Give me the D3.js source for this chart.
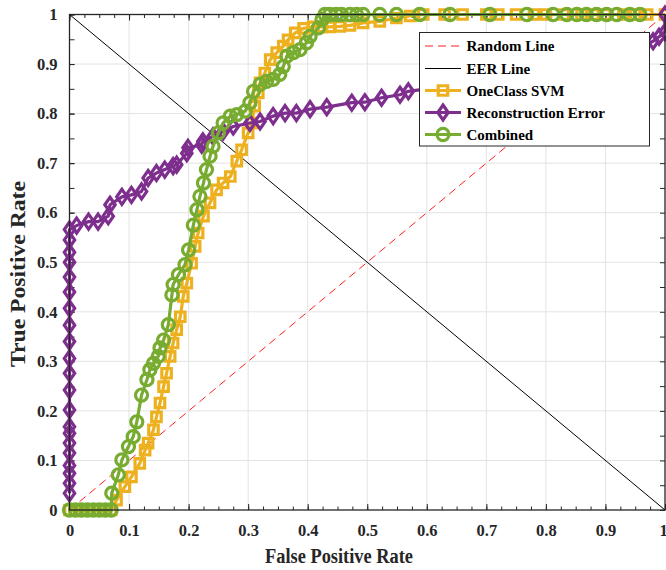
<!DOCTYPE html>
<html><head><meta charset="utf-8">
<script src="https://cdn.jsdelivr.net/npm/d3@7/dist/d3.min.js"></script>
<style>body{margin:0;background:#fff}svg{display:block}</style>
</head><body>
<script>
const xTicks = [0,0.1,0.2,0.3,0.4,0.5,0.6,0.7,0.8,0.9,1];
const yTicks = [0,0.1,0.2,0.3,0.4,0.5,0.6,0.7,0.8,0.9,1];
const tickLabels = ["0","0.1","0.2","0.3","0.4","0.5","0.6","0.7","0.8","0.9","1"];
const seriesNames = ["Random Line","EER Line","OneClass SVM","Reconstruction Error","Combined"];

const randomLine = [[0,0],[1,1]];
const eerLine = [[0,1],[1,0]];

const svmFPR = [0,0.01,0.02,0.03,0.04,0.05,0.06,0.07,0.079,0.093,0.104,0.118,0.127,0.132,0.141,0.146,0.152,0.158,0.163,0.169,0.174,0.18,0.186,0.191,0.197,0.205,0.211,0.216,0.225,0.236,0.247,0.258,0.27,0.281,0.289,0.3,0.306,0.311,0.317,0.32,0.328,0.337,0.348,0.359,0.367,0.379,0.393,0.409,0.424,0.437,0.454,0.471,0.493,0.521,0.549,0.572,0.594,0.63,0.66,0.7,0.72,0.75,0.78,0.8,0.83,0.86,0.88,0.9,0.93,0.95,0.97,1];
const svmTPR = [0,0,0,0,0,0,0,0,0.02,0.047,0.067,0.094,0.121,0.135,0.162,0.188,0.216,0.249,0.276,0.31,0.337,0.364,0.39,0.431,0.458,0.498,0.532,0.559,0.593,0.62,0.646,0.66,0.673,0.704,0.727,0.761,0.781,0.815,0.842,0.862,0.882,0.909,0.923,0.936,0.949,0.963,0.972,0.975,0.975,0.975,0.976,0.978,0.983,0.986,0.993,0.997,1,1,1,1,1,1,1,1,1,1,1,1,1,1,1,1,1];

const reconFPR = [0,0,0,0,0,0,0,0,0,0,0,0,0,0,0,0,0,0,0,0,0,0.012,0.032,0.048,0.065,0.068,0.088,0.104,0.121,0.132,0.146,0.16,0.174,0.18,0.197,0.199,0.222,0.224,0.241,0.258,0.275,0.303,0.32,0.342,0.362,0.381,0.404,0.432,0.474,0.496,0.524,0.555,0.569,0.6,0.65,0.7,0.75,0.8,0.85,0.9,0.95,0.98,0.99,1,1];
const reconTPR = [0.034,0.054,0.074,0.09,0.115,0.135,0.155,0.168,0.202,0.242,0.276,0.306,0.34,0.373,0.407,0.44,0.47,0.5,0.52,0.545,0.566,0.574,0.582,0.582,0.593,0.616,0.632,0.636,0.643,0.67,0.68,0.687,0.694,0.697,0.72,0.731,0.737,0.744,0.754,0.764,0.774,0.781,0.784,0.795,0.801,0.801,0.809,0.813,0.822,0.823,0.832,0.838,0.845,0.85,0.86,0.87,0.88,0.89,0.9,0.91,0.93,0.946,0.955,0.965,1];

const combFPR = [0,0.01,0.02,0.03,0.04,0.05,0.06,0.07,0.071,0.082,0.088,0.099,0.107,0.113,0.121,0.13,0.135,0.141,0.149,0.152,0.158,0.166,0.172,0.174,0.183,0.194,0.2,0.208,0.214,0.219,0.225,0.23,0.236,0.241,0.25,0.258,0.27,0.281,0.295,0.303,0.309,0.32,0.331,0.342,0.353,0.359,0.365,0.376,0.387,0.398,0.404,0.418,0.424,0.429,0.437,0.448,0.457,0.471,0.482,0.493,0.521,0.549,0.588,0.639,0.706,0.768,0.812,0.835,0.852,0.868,0.885,0.902,0.919,0.941,0.958];
const combTPR = [0,0,0,0,0,0,0,0,0.034,0.071,0.101,0.128,0.148,0.178,0.232,0.263,0.283,0.296,0.31,0.327,0.343,0.374,0.434,0.455,0.475,0.495,0.525,0.575,0.606,0.633,0.66,0.687,0.714,0.734,0.761,0.781,0.795,0.798,0.805,0.822,0.845,0.859,0.865,0.869,0.879,0.895,0.916,0.923,0.929,0.943,0.956,0.973,0.99,1,1,1,1,1,1,1,1,1,1,1,1,1,1,1,1,1,1,1,1,1,1];

const W = 666, H = 570;
const L = 69.5, R = 665, T = 14.5, B = 510;
const C_SVM = "#EDB120", C_REC = "#7E2F8E", C_COMB = "#77AC30";
const FONT = "'Liberation Serif','Times New Roman',serif";

const svg = d3.select("body").append("svg").attr("width", W).attr("height", H);
const x = d3.scaleLinear().domain([0,1]).range([L,R]);
const y = d3.scaleLinear().domain([0,1]).range([B,T]);

// grid
const g = svg.append("g");
g.selectAll("line.gx").data(xTicks.slice(1,-1)).join("line")
  .attr("x1", d=>x(d)).attr("x2", d=>x(d)).attr("y1", T).attr("y2", B)
  .attr("stroke", "#e3e3e3").attr("stroke-width", 1);
g.selectAll("line.gy").data(yTicks.slice(1,-1)).join("line")
  .attr("y1", d=>y(d)).attr("y2", d=>y(d)).attr("x1", L).attr("x2", R)
  .attr("stroke", "#e3e3e3").attr("stroke-width", 1);

// axes (ticks inside)
const minorX = d3.range(0, 1.0001, 0.025);
const minorY = d3.range(0, 1.0001, 0.05);
const axG = svg.append("g");
function addAxis(axis, tf) {
  const a = axG.append("g").attr("transform", tf).call(axis);
  a.select(".domain").remove();
  a.selectAll("line").attr("stroke", "#262626").attr("stroke-width", 1);
  return a;
}
addAxis(d3.axisBottom(x).tickValues(minorX).tickSize(-3.5).tickFormat(""), `translate(0,${B})`);
const bx = addAxis(d3.axisBottom(x).tickValues(xTicks).tickSize(-6).tickPadding(14).tickFormat((d,i)=>tickLabels[i]), `translate(0,${B})`);
addAxis(d3.axisTop(x).tickValues(minorX).tickSize(-3.5).tickFormat(""), `translate(0,${T})`);
addAxis(d3.axisTop(x).tickValues(xTicks).tickSize(-6).tickFormat(""), `translate(0,${T})`);
addAxis(d3.axisLeft(y).tickValues(minorY).tickSize(-5).tickFormat(""), `translate(${L},0)`);
const ly = addAxis(d3.axisLeft(y).tickValues(yTicks).tickSize(-5).tickPadding(12).tickFormat((d,i)=>tickLabels[i]), `translate(${L},0)`);
addAxis(d3.axisRight(y).tickValues(minorY).tickSize(-5).tickFormat(""), `translate(${R},0)`);
[bx, ly].forEach(a => a.selectAll("text").attr("font-family", FONT).attr("font-weight", "bold")
  .attr("font-size", 16.5).attr("fill", "#262626"));
bx.selectAll("text").attr("dy", "0.71em");
bx.selectAll("text").filter(d=>d===1).attr("dx", -2);

// reference lines
const line = d3.line().x(d=>x(d[0])).y(d=>y(d[1]));
svg.append("path").datum(randomLine).attr("d", line).attr("fill","none")
  .attr("stroke", "#ff2020").attr("stroke-width", 1).attr("stroke-dasharray", "8,5");
svg.append("path").datum(eerLine).attr("d", line).attr("fill","none")
  .attr("stroke", "#000").attr("stroke-width", 1);

// series
function zip(a, b){ return a.map((v,i)=>[v,b[i]]); }
const squarePath = d3.symbol().type(d3.symbolSquare).size(90)();
const diamondPath = "M0,-7.5L5.2,0L0,7.5L-5.2,0Z";
const circlePath = d3.symbol().type(d3.symbolCircle).size(115)();
function drawSeries(data, color, kind) {
  const sg = svg.append("g");
  sg.append("path").datum(data).attr("d", line).attr("fill","none")
    .attr("stroke", color).attr("stroke-width", 3.2).attr("stroke-linejoin","round");
  sg.selectAll("path.m").data(data).join("path").attr("class","m")
    .attr("transform", d=>`translate(${x(d[0])},${y(d[1])})`)
    .attr("fill","none").attr("stroke", color).attr("stroke-width", 3.2)
    .attr("d", kind === "square" ? squarePath : kind === "diamond" ? diamondPath : circlePath);
}
drawSeries(zip(svmFPR, svmTPR), C_SVM, "square");
drawSeries(zip(reconFPR, reconTPR), C_REC, "diamond");
drawSeries(zip(combFPR, combTPR), C_COMB, "circle");

// frame
svg.append("rect").attr("x", L).attr("y", T).attr("width", R-L).attr("height", B-T)
  .attr("fill","none").attr("stroke","#262626").attr("stroke-width", 1.3);

// legend
const lg = svg.append("g");
lg.append("rect").attr("x", 419.5).attr("y", 32.5).attr("width", 230).attr("height", 113.5)
  .attr("fill", "#fff").attr("stroke", "#262626").attr("stroke-width", 1);
const rowY = [46, 68.5, 90.5, 112.5, 134.5];
const x0 = 425, x1 = 461, xm = 443;
const items = lg.selectAll("g.it").data(seriesNames).join("g").attr("class","it")
  .attr("transform", (d,i)=>`translate(0,${rowY[i]})`);
items.append("text").attr("x", 466.5).attr("y", 0).attr("dy","0.35em")
  .attr("font-family", FONT).attr("font-weight","bold").attr("font-size", 15)
  .attr("fill","#000").text(d=>d);
items.each(function(d,i){
  const s = d3.select(this);
  if (i === 0) s.append("line").attr("x1",x0).attr("x2",x1).attr("stroke","#ff2020").attr("stroke-dasharray","8,5").attr("stroke-width",1);
  else if (i === 1) s.append("line").attr("x1",x0).attr("x2",x1).attr("stroke","#000").attr("stroke-width",1);
  else {
    const c = [C_SVM, C_REC, C_COMB][i-2];
    s.append("line").attr("x1",x0).attr("x2",x1).attr("stroke",c).attr("stroke-width",3.2);
    s.append("path").attr("transform",`translate(${xm},0)`).attr("fill","none").attr("stroke",c).attr("stroke-width",3.2)
      .attr("d", i===2 ? squarePath : i===3 ? diamondPath : circlePath);
  }
});

// axis titles
svg.append("text").attr("x", 339).attr("y", 563).attr("text-anchor","middle")
  .attr("font-family", FONT).attr("font-weight","bold").attr("font-size", 20).attr("fill","#262626")
  .attr("textLength", 148).attr("lengthAdjust", "spacingAndGlyphs")
  .text("False Positive Rate");
svg.append("text").attr("transform","translate(25,274) rotate(-90)").attr("text-anchor","middle")
  .attr("font-family", FONT).attr("font-weight","bold").attr("font-size", 20).attr("fill","#262626")
  .attr("textLength", 186).attr("lengthAdjust", "spacingAndGlyphs")
  .text("True Positive Rate");
</script>
</body></html>
